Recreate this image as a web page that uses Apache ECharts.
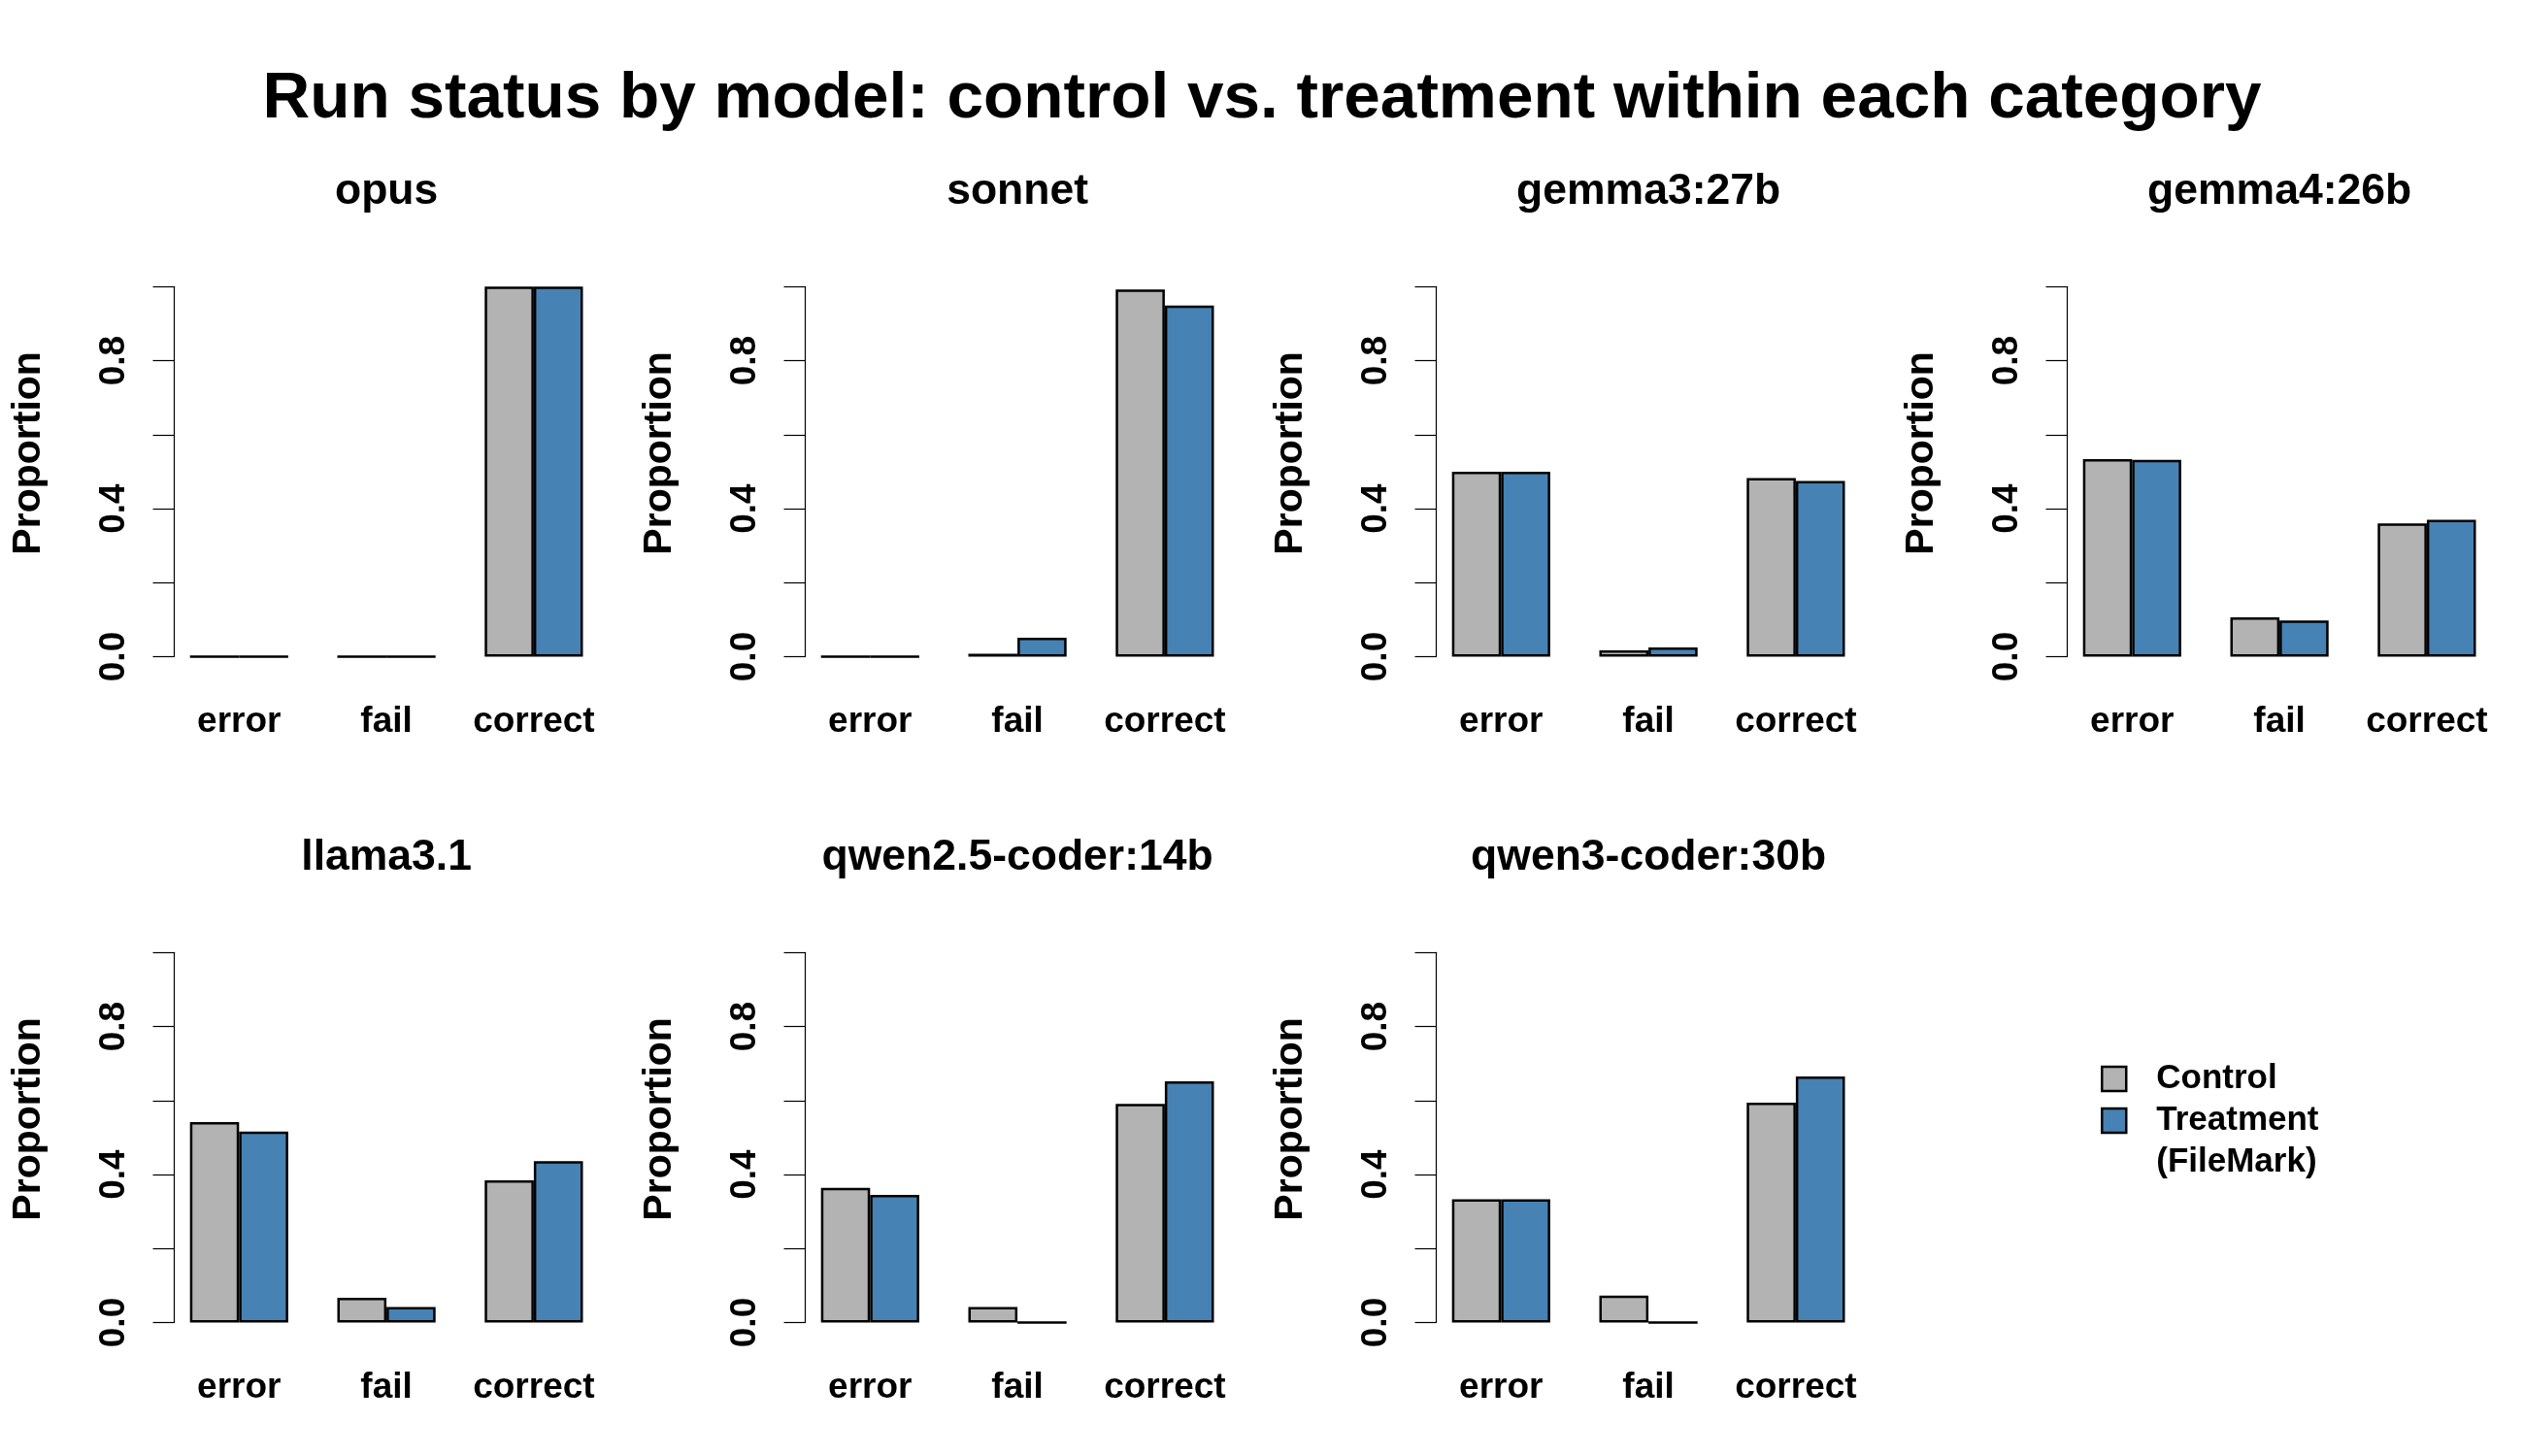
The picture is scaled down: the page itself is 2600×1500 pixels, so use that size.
<!DOCTYPE html>
<html>
<head>
<meta charset="utf-8">
<script src="https://cdn.jsdelivr.net/npm/echarts@6/dist/echarts.min.js"></script>
<style>
  body { margin: 0; background: #fff; }
  #chart { width: 2600px; height: 1500px; }
</style>
</head>
<body>
<div id="chart"></div>
<script>
// data
const mainTitle = 'Run status by model: control vs. treatment within each category';
const models = ['opus', 'sonnet', 'gemma3:27b', 'gemma4:26b', 'llama3.1', 'qwen2.5-coder:14b', 'qwen3-coder:30b'];
const categories = ['error', 'fail', 'correct'];
const groupNames = ['Control', 'Treatment (FileMark)'];
// one row per model, values in category order
const controlValues = [
  [0, 0, 1.0],
  [0, 0.008, 0.992],
  [0.5, 0.017, 0.483],
  [0.534, 0.106, 0.36],
  [0.542, 0.067, 0.384],
  [0.364, 0.042, 0.591],
  [0.333, 0.073, 0.594]
];
const treatmentValues = [
  [0, 0, 1.0],
  [0, 0.051, 0.949],
  [0.5, 0.025, 0.475],
  [0.532, 0.098, 0.37],
  [0.516, 0.042, 0.436],
  [0.345, 0, 0.652],
  [0.333, 0, 0.665]
];
const yTicks = [0, 0.2, 0.4, 0.6, 0.8, 1.0];
const yTickLabels = ['0.0', '0.4', '0.8'];

const colors = ['#B3B3B3', '#4682B4'];
const font = '"Liberation Sans", Arial, Helvetica, sans-serif';

const chart = echarts.init(document.getElementById('chart'));

// panel geometry (R style 2x4 layout), one bar = one unit
const unit = 50.6;
const colStep = 650;
const rowTop = [295.3, 981.3];
const plotH = 381.2;
const rowTitleTop = [175, 861];

const grids = [], xAxes = [], yAxes = [], series = [];
const titles = [{
  text: mainTitle,
  left: 1300, top: 68, textAlign: 'center', padding: 0,
  textStyle: {fontFamily: font, fontWeight: 'bold', fontSize: 67.5, color: '#000'}
}];

models.forEach((m, i) => {
  const col = i % 4, row = Math.floor(i / 4);
  const left = col * colStep + 145.1 + 0.5 * unit;
  grids.push({left: left, top: rowTop[row], width: 9 * unit, height: plotH, containLabel: false});
  titles.push({
    text: m, left: left + 4.5 * unit, top: rowTitleTop[row], textAlign: 'center', padding: 0,
    textStyle: {fontFamily: font, fontWeight: 'bold', fontSize: 44.5, color: '#000'}
  });
  xAxes.push({
    type: 'category', gridIndex: i, data: categories,
    axisLine: {show: false}, axisTick: {show: false},
    axisLabel: {interval: 0, hideOverlap: false, margin: 49, fontFamily: font, fontWeight: 'bold', fontSize: 37, color: '#000'}
  });
  yAxes.push({
    type: 'value', gridIndex: i, min: yTicks[0], max: yTicks[yTicks.length - 1], interval: 0.2,
    offset: -0.18 * unit,
    splitLine: {show: false},
    axisLine: {show: true, lineStyle: {color: '#000', width: 1.2}},
    axisTick: {show: true, length: 22, lineStyle: {color: '#000', width: 1.2}},
    axisLabel: {
      rotate: 90, margin: 43, fontFamily: font, fontWeight: 'bold', fontSize: 37, color: '#000',
      formatter: v => {
        const s = v.toFixed(1);
        return yTickLabels.indexOf(s) >= 0 ? s : '';
      }
    },
    name: 'Proportion', nameLocation: 'middle', nameGap: 129, nameRotate: 90,
    nameTextStyle: {fontFamily: font, fontWeight: 'bold', fontSize: 41, color: '#000', padding: [0, 0, 0, 38]}
  });
  [controlValues, treatmentValues].forEach((vals, k) => {
    series.push({
      type: 'bar', name: groupNames[k], xAxisIndex: i, yAxisIndex: i,
      data: vals[i], barWidth: unit, barGap: '0%', clip: false,
      itemStyle: {color: colors[k], borderColor: '#000', borderWidth: 2.5},
      emphasis: {disabled: true}
    });
  });
});

const option = {
  backgroundColor: '#fff',
  animation: false,
  title: titles,
  grid: grids,
  xAxis: xAxes,
  yAxis: yAxes,
  legend: {
    data: groupNames,
    orient: 'vertical', left: 2164, top: 1090, padding: 0,
    icon: 'rect', itemWidth: 25, itemHeight: 25, itemGap: -43,
    itemStyle: {borderColor: '#000', borderWidth: 2.5},
    // blank first line keeps "Treatment" level with its box, "(FileMark)" below
    formatter: name => name.indexOf(' (') > 0 ? ' \n' + name.replace(' (', '\n(') : name,
    textStyle: {
      fontFamily: font, fontWeight: 'bold', fontSize: 35, color: '#000',
      lineHeight: 43, padding: [0, 0, 0, 26]
    }
  },
  series: series
};
chart.setOption(option);
</script>
</body>
</html>
